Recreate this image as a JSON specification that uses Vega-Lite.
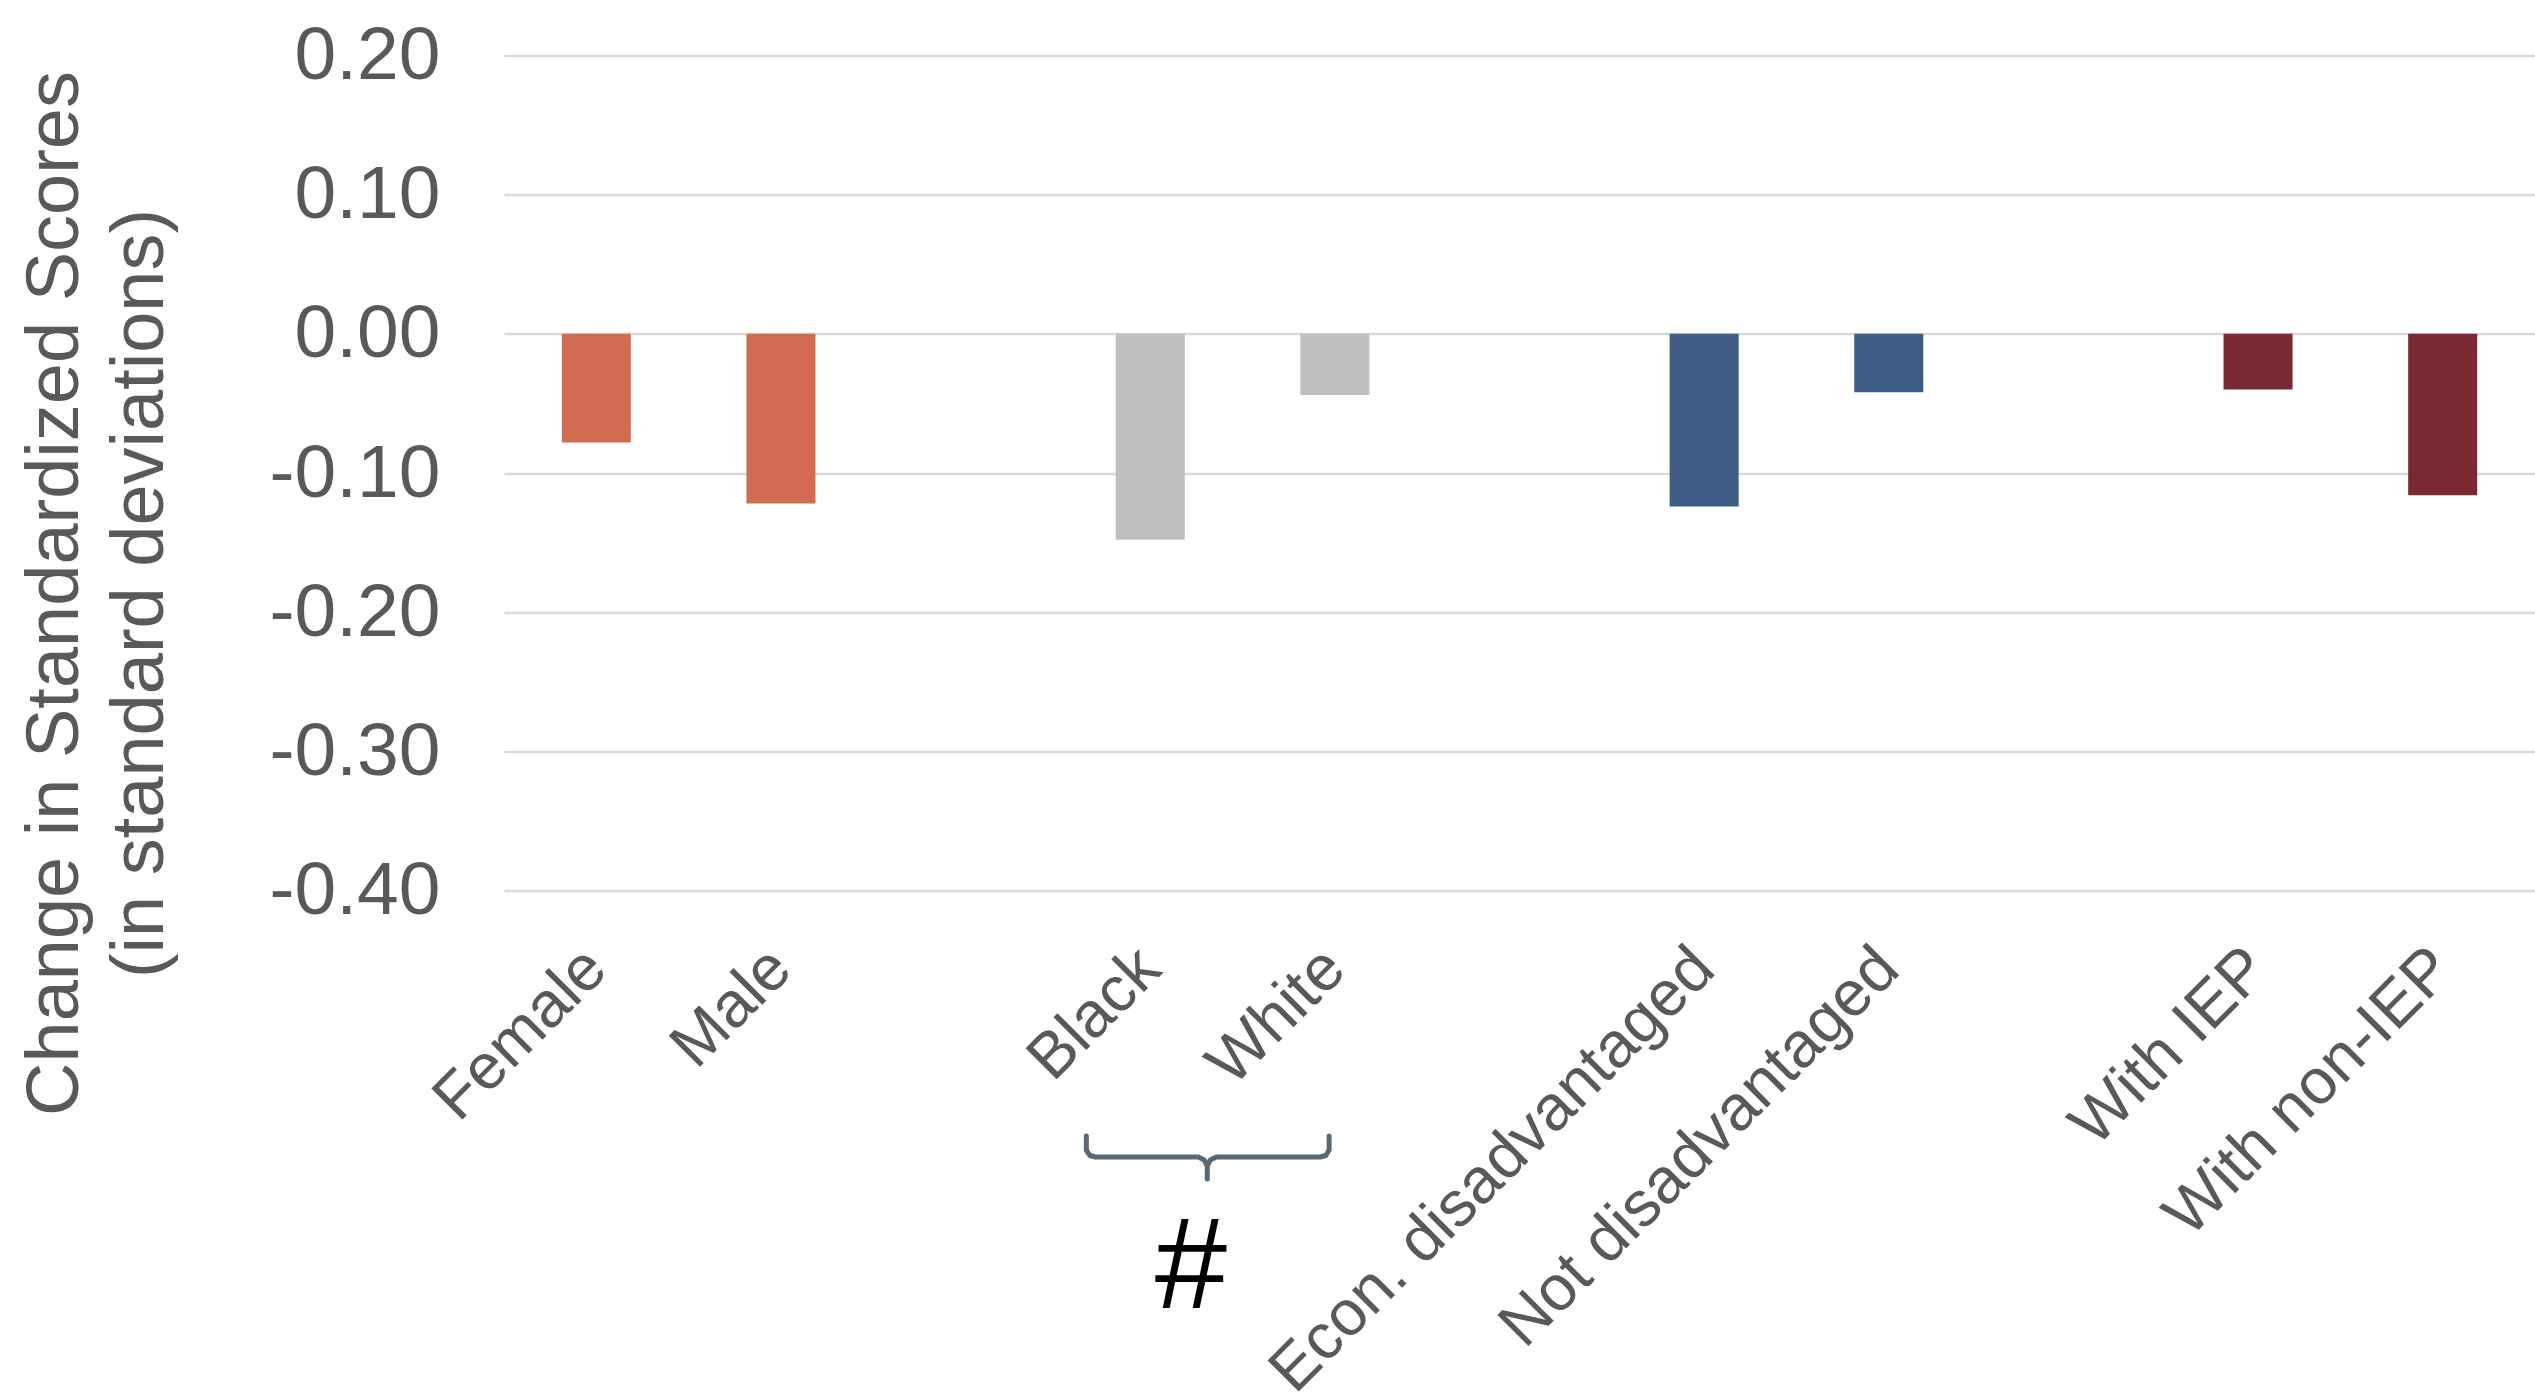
{
  "$schema": "https://vega.github.io/schema/vega-lite/v6.json",
  "width": 2031,
  "height": 835,
  "autosize": "none",
  "padding": {"left": 504, "top": 55.5, "right": 0, "bottom": 507.5},
  "background": "white",
  "config": {"view": {"stroke": null}, "font": "Liberation Sans"},
  "datasets": {
    "scores": [
      {"category": "Female", "group": "Gender", "change": -0.078},
      {"category": "Male", "group": "Gender", "change": -0.122},
      {"category": "Black", "group": "Race", "change": -0.148},
      {"category": "White", "group": "Race", "change": -0.044},
      {"category": "Econ. disadvantaged", "group": "Economic", "change": -0.124},
      {"category": "Not disadvantaged", "group": "Economic", "change": -0.042},
      {"category": "With IEP", "group": "IEP", "change": -0.040},
      {"category": "With non-IEP", "group": "IEP", "change": -0.116}
    ],
    "brace": [
      {"step": 1, "slot": 2.654, "level": -0.5764},
      {"step": 2, "slot": 2.654, "level": -0.5865},
      {"step": 3, "slot": 2.673, "level": -0.5904},
      {"step": 4, "slot": 2.703, "level": -0.5915},
      {"step": 5, "slot": 3.260, "level": -0.5915},
      {"step": 6, "slot": 3.293, "level": -0.5937},
      {"step": 7, "slot": 3.309, "level": -0.5980},
      {"step": 8, "slot": 3.309, "level": -0.6073},
      {"step": 9, "slot": 3.309, "level": -0.5980},
      {"step": 10, "slot": 3.325, "level": -0.5937},
      {"step": 11, "slot": 3.358, "level": -0.5915},
      {"step": 12, "slot": 3.921, "level": -0.5915},
      {"step": 13, "slot": 3.951, "level": -0.5904},
      {"step": 14, "slot": 3.969, "level": -0.5865},
      {"step": 15, "slot": 3.969, "level": -0.5764}
    ],
    "marker": [
      {"slot": 3.22, "level": -0.700, "label": "#"}
    ]
  },
  "layer": [
    {
      "data": {"name": "scores"},
      "mark": {"type": "bar"},
      "encoding": {
        "x": {
          "field": "category",
          "type": "nominal",
          "sort": null,
          "scale": {
            "domain": ["Female", "Male", "gap1", "Black", "White", "gap2", "Econ. disadvantaged", "Not disadvantaged", "gap3", "With IEP", "With non-IEP"],
            "paddingInner": 0.626,
            "paddingOuter": 0.313
          },
          "axis": {
            "title": null,
            "labelExpr": "indexof(datum.label, 'gap') === 0 ? '' : datum.label",
            "labelAngle": -45,
            "labelAlign": "right",
            "labelBaseline": "middle",
            "labelPadding": 68,
            "labelFont": "Liberation Sans",
            "labelFontSize": 64,
            "labelColor": "#595959",
            "labelLimit": 2000,
            "labelOverlap": false,
            "domain": false,
            "ticks": false,
            "grid": false
          }
        },
        "y": {
          "field": "change",
          "type": "quantitative",
          "scale": {"domain": [-0.4, 0.2], "nice": false},
          "axis": {
            "values": [-0.4, -0.3, -0.2, -0.1, 0, 0.1, 0.2],
            "labelExpr": "datum.value < 0 ? '-' + format(-datum.value, '.2f') : format(datum.value, '.2f')",
            "labelFont": "Liberation Sans",
            "labelFontSize": 75,
            "labelColor": "#595959",
            "labelPadding": 64,
            "ticks": false,
            "domain": false,
            "grid": true,
            "gridColor": "#d9d9d9",
            "gridWidth": 2.5,
            "title": ["Change in Standardized Scores", "(in standard deviations)"],
            "titleFont": "Liberation Sans",
            "titleFontSize": 74,
            "titleFontWeight": "normal",
            "titleColor": "#595959",
            "titleLineHeight": 85,
            "titleAngle": 270,
            "titleAlign": "center",
            "titleBaseline": "alphabetic",
            "titleX": -427,
            "titleY": 537.5
          }
        },
        "color": {
          "field": "group",
          "type": "nominal",
          "scale": {
            "domain": ["Gender", "Race", "Economic", "IEP"],
            "range": ["#d16c52", "#bfbfbf", "#405d87", "#7a2832"]
          },
          "legend": null
        }
      }
    },
    {
      "data": {"name": "brace"},
      "mark": {"type": "line", "color": "#5b6874", "strokeWidth": 5, "strokeCap": "round", "strokeJoin": "round"},
      "encoding": {
        "x": {"field": "slot", "type": "quantitative", "scale": {"domain": [-0.5, 10.5], "nice": false, "zero": false}, "axis": null},
        "y": {"field": "level", "type": "quantitative", "scale": {"domain": [-0.4, 0.2], "nice": false}, "axis": null},
        "order": {"field": "step", "type": "quantitative"}
      }
    },
    {
      "data": {"name": "marker"},
      "mark": {"type": "text", "font": "Liberation Sans", "fontSize": 130, "color": "black", "align": "center", "baseline": "alphabetic"},
      "encoding": {
        "x": {"field": "slot", "type": "quantitative", "scale": {"domain": [-0.5, 10.5], "nice": false, "zero": false}, "axis": null},
        "y": {"field": "level", "type": "quantitative", "scale": {"domain": [-0.4, 0.2], "nice": false}, "axis": null},
        "text": {"field": "label"}
      }
    }
  ],
  "resolve": {"scale": {"x": "independent"}, "axis": {"y": "independent"}}
}
